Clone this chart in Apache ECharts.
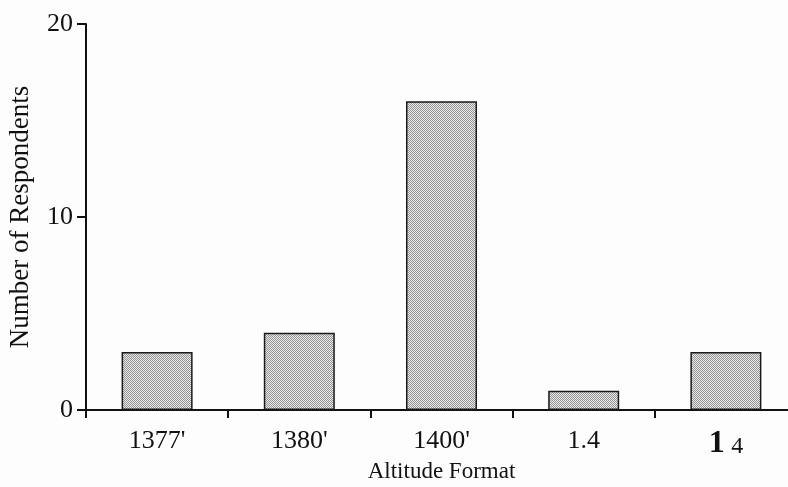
<!DOCTYPE html>
<html>
<head>
<meta charset="utf-8">
<script src="https://cdn.jsdelivr.net/npm/echarts@6/dist/echarts.min.js"></script>
<style>
  html, body { margin: 0; padding: 0; background: #fdfdfd; overflow: hidden; }
  #chart { width: 788px; height: 487px; }
</style>
</head>
<body>
<div id="chart"></div>
<script>
// Altitude formats shown to respondents
const categories = ["1377'", "1380'", "1400'", "1.4", "14"];
// Number of respondents preferring each format
const respondents = [3, 4, 16, 1, 3];
// Y axis range and step
const yTicks = [0, 10, 20];

// Stippled grey fill for the bars
function stipple() {
  const c = document.createElement('canvas');
  c.width = 2; c.height = 2;
  const g = c.getContext('2d');
  g.fillStyle = '#e8e8e8';
  g.fillRect(0, 0, 2, 2);
  g.fillStyle = '#959595';
  g.fillRect(0, 0, 1, 1);
  g.fillRect(1, 1, 1, 1);
  return c;
}

const serif = '"Liberation Serif", "Times New Roman", serif';
const chart = echarts.init(document.getElementById('chart'), null, { renderer: 'canvas' });

chart.setOption({
  backgroundColor: '#fdfdfd',
  animation: false,
  // the category axis runs on a little past the right edge
  grid: { left: 86, width: 711, top: 24, height: 386, containLabel: false, outerBoundsMode: 'none' },
  xAxis: {
    type: 'category',
    data: categories,
    boundaryGap: true,
    name: 'Altitude Format',
    nameLocation: 'middle',
    nameGap: 50,
    nameMoveOverlap: false,
    nameTextStyle: { fontFamily: serif, fontSize: 23, color: '#111' },
    axisLine: { lineStyle: { color: '#111', width: 2 } },
    axisTick: { show: true, interval: 0, alignWithLabel: false, length: 8, lineStyle: { color: '#111', width: 2 } },
    axisLabel: {
      interval: 0,
      margin: 18,
      fontFamily: serif,
      fontSize: 26,
      color: '#111',
      formatter: function (v) {
        return v === '14' ? '{big|1} {small|4}' : v;
      },
      rich: {
        big: { fontFamily: serif, fontSize: 32, fontWeight: 'bold', color: '#111' },
        small: { fontFamily: serif, fontSize: 24, color: '#111', padding: [6, 0, 0, 0] }
      }
    },
    splitLine: { show: false }
  },
  yAxis: {
    type: 'value',
    min: yTicks[0],
    max: yTicks[yTicks.length - 1],
    interval: yTicks[1] - yTicks[0],
    name: 'Number of Respondents',
    nameLocation: 'middle',
    nameRotate: 90,
    nameGap: 52,
    nameMoveOverlap: false,
    nameTextStyle: { fontFamily: serif, fontSize: 27, color: '#111' },
    axisLine: { show: true, lineStyle: { color: '#111', width: 2 } },
    axisTick: { show: true, length: 9, lineStyle: { color: '#111', width: 2 } },
    axisLabel: { margin: 13, fontFamily: serif, fontSize: 26, color: '#111' },
    splitLine: { show: false }
  },
  series: [{
    type: 'bar',
    data: respondents,
    barWidth: 71,
    itemStyle: {
      color: { image: stipple(), repeat: 'repeat' },
      borderColor: '#1a1a1a',
      borderWidth: 1.5
    }
  }]
});
</script>
</body>
</html>
